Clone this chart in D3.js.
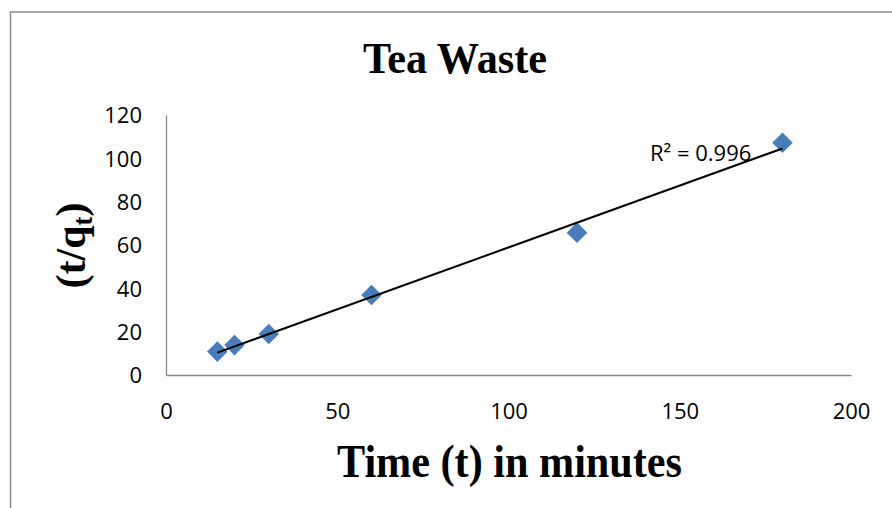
<!DOCTYPE html>
<html>
<head>
<meta charset="utf-8">
<script src="https://cdn.jsdelivr.net/npm/d3@7"></script>
<style>
  html, body { margin: 0; padding: 0; background: #fff; }
  svg { display: block; }
</style>
</head>
<body>
<svg id="chart" width="892" height="508"></svg>
<script>
// ---- Data ----
const timeMinutes = [15, 20, 30, 60, 120, 180];
const tOverQt = [10.8, 13.8, 18.9, 36.9, 65.7, 107.2];
const xTicks = [0, 50, 100, 150, 200];
const yTicks = [0, 20, 40, 60, 80, 100, 120];
const chartTitle = "Tea Waste";
const xLabel = "Time (t) in minutes";
const r2Label = "R² = 0.996";

const svg = d3.select("#chart");
const W = 892, H = 508;

// Frame border (chart area)
svg.append("rect")
  .attr("x", 10.5).attr("y", 12)
  .attr("width", W + 20).attr("height", H + 20)
  .attr("fill", "#fff")
  .attr("stroke", "#8a8a8a").attr("stroke-width", 1.5);

const plot = { left: 166, right: 851, top: 115, bottom: 375 };
const x = d3.scaleLinear().domain([0, 200]).range([plot.left, plot.right]);
const y = d3.scaleLinear().domain([0, 120]).range([plot.bottom, plot.top]);

// Axes
const xAxis = d3.axisBottom(x).tickValues(xTicks).tickSize(0).tickPadding(0);
const yAxis = d3.axisLeft(y).tickValues(yTicks).tickSize(0).tickPadding(0);

const gx = svg.append("g").attr("transform", `translate(0,${plot.bottom})`).call(xAxis);
gx.select(".domain").attr("stroke", "#868686").attr("stroke-width", 1.3);
gx.selectAll("text")
  .attr("font-family", "'Open Sans', sans-serif")
  .attr("font-size", 22)
  .attr("fill", "#000")
  .attr("dy", null)
  .attr("y", 44);

const gy = svg.append("g").attr("transform", `translate(${plot.left},0)`).call(yAxis);
gy.select(".domain").attr("stroke", "#868686").attr("stroke-width", 1.3);
gy.selectAll("text")
  .attr("font-family", "'Open Sans', sans-serif")
  .attr("font-size", 22)
  .attr("fill", "#000")
  .attr("x", -24)
  .attr("dy", "0.36em");

// Linear regression trendline
const n = timeMinutes.length;
const mx = d3.mean(timeMinutes), my = d3.mean(tOverQt);
let sxy = 0, sxx = 0;
for (let i = 0; i < n; i++) {
  sxy += (timeMinutes[i] - mx) * (tOverQt[i] - my);
  sxx += (timeMinutes[i] - mx) ** 2;
}
const slope = sxy / sxx, intercept = my - slope * mx;
const x0 = d3.min(timeMinutes), x1 = d3.max(timeMinutes);

// Points
const diamond = d3.symbol().type(d3.symbolDiamond2).size(270);
svg.append("g").selectAll("path")
  .data(timeMinutes.map((t, i) => [t, tOverQt[i]]))
  .join("path")
  .attr("d", diamond)
  .attr("transform", d => `translate(${x(d[0])},${y(d[1])})`)
  .attr("fill", "#4a7ebb");

svg.append("line")
  .attr("x1", x(x0)).attr("y1", y(slope * x0 + intercept))
  .attr("x2", x(x1)).attr("y2", y(slope * x1 + intercept))
  .attr("stroke", "#000").attr("stroke-width", 2);

// R² label
svg.append("text")
  .attr("x", 650).attr("y", 160.5)
  .attr("font-family", "'Open Sans', sans-serif")
  .attr("font-size", 22)
  .attr("fill", "#000")
  .text(r2Label);

// Title
svg.append("text")
  .attr("x", 363).attr("y", 72.5)
  .attr("font-family", "'Liberation Serif', 'Times New Roman', serif")
  .attr("font-weight", "bold")
  .attr("font-size", 45)
  .attr("textLength", 184)
  .attr("lengthAdjust", "spacingAndGlyphs")
  .attr("fill", "#000")
  .text(chartTitle);

// X axis label
svg.append("text")
  .attr("x", 337).attr("y", 477)
  .attr("font-family", "'Liberation Serif', 'Times New Roman', serif")
  .attr("font-weight", "bold")
  .attr("font-size", 46)
  .attr("textLength", 345)
  .attr("lengthAdjust", "spacingAndGlyphs")
  .attr("fill", "#000")
  .text(xLabel);

// Y axis label (t/q_t)
const yl = svg.append("text")
  .attr("transform", "translate(84.5,245.5) rotate(-90)")
  .attr("text-anchor", "middle")
  .attr("font-family", "'Liberation Serif', 'Times New Roman', serif")
  .attr("font-weight", "bold")
  .attr("font-size", 42)
  .attr("fill", "#000");
yl.append("tspan").text("(t/q");
yl.append("tspan").attr("font-size", 27).attr("dy", 7).text("t");
yl.append("tspan").attr("dy", -7).text(")");
</script>
</body>
</html>
